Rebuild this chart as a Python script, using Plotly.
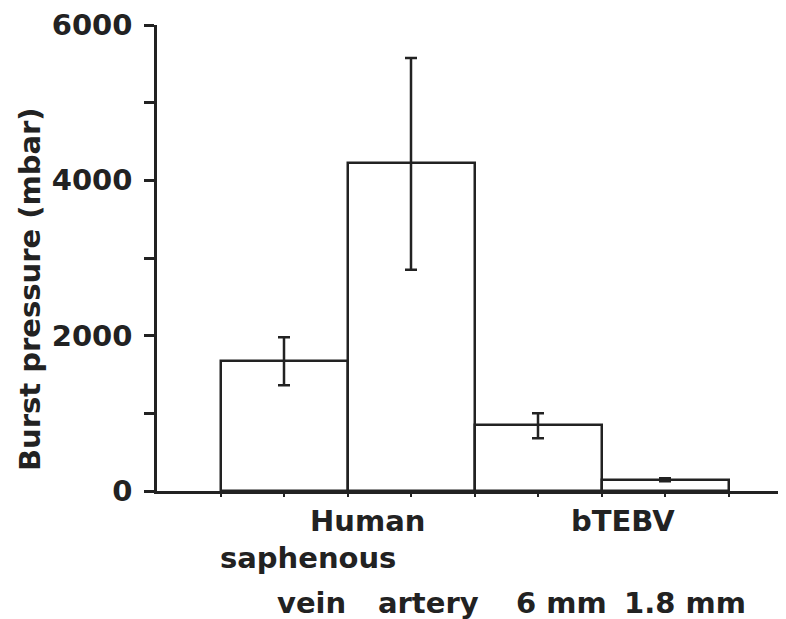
import plotly.graph_objects as go

categories = ["saphenous vein", "artery", "6 mm", "1.8 mm"]
values = [1675, 4220, 845, 145]
err_plus = [305, 1355, 155, 18]
err_minus = [315, 1370, 165, 18]
y_tick_vals = [0, 1000, 2000, 3000, 4000, 5000, 6000]
y_tick_text = ["0", "", "2000", "", "4000", "", "6000"]

xpos = list(range(len(categories)))
C = "#222222"
FONT = "DejaVu Sans, Arial, sans-serif"

OFF = 8  # page body margin of the browser
W, H = 786 - 2 * OFF, 619 - OFF
# plot area in page pixels: left 157, right 778, top 25, bottom 491
L = 157 - OFF
R = W - (778 - OFF)
T = 25 - OFF
B = H - (491 - OFF)
PW, PH = W - L - R, H - T - B
X0, UNIT = 284 - OFF, 127.0   # fig pixel of category 0 and pixels per category

fig = go.Figure()
fig.add_trace(go.Bar(
    x=xpos, y=values, width=1.0,
    marker=dict(color="white", line=dict(color=C, width=2.5)),
    error_y=dict(type="data", array=err_plus, arrayminus=err_minus,
                 color=C, thickness=2.5, width=6),
    showlegend=False,
))

fig.update_layout(
    width=W, height=H,
    margin=dict(l=L, r=R, t=T, b=B, autoexpand=False),
    plot_bgcolor="white", paper_bgcolor="white",
    font=dict(family=FONT, color=C, size=29),
    bargap=0,
)
fig.update_xaxes(
    range=[(L - X0) / UNIT, (W - R - X0) / UNIT], showgrid=False, zeroline=False,
    showline=True, linecolor=C, linewidth=2.5, automargin=False,
    tickmode="array", tickvals=[-0.5, 0, 0.5, 1, 1.5, 2, 2.5, 3, 3.5],
    ticktext=[""] * 9, ticks="outside", ticklen=3, tickwidth=1.5, tickcolor=C,
)
fig.update_yaxes(
    range=[0, 6000], showgrid=False, zeroline=False,
    showline=True, linecolor=C, linewidth=2.5, automargin=False,
    tickmode="array", tickvals=y_tick_vals, ticktext=y_tick_text,
    ticks="outside", ticklen=10, tickwidth=2.5, tickcolor=C,
    ticklabelstandoff=6,
    tickfont=dict(family=FONT, size=29, color=C, weight="bold"),
)

fig.add_annotation(
    text="<b>Burst pressure (mbar)</b>", xref="paper", yref="paper",
    x=(30 - OFF - L) / PW, y=(H - B - (289 - OFF)) / PH,
    xanchor="center", yanchor="middle",
    textangle=-90, showarrow=False, font=dict(family=FONT, size=29, color=C),
)

def lab(text, xpx_center, ypx_center):
    # pixel positions given in page coordinates
    fig.add_annotation(
        text="<b>" + text + "</b>", xref="x", yref="paper",
        x=(xpx_center - OFF - X0) / UNIT, y=0,
        yshift=-((ypx_center - OFF) - (H - B)),
        xanchor="center", yanchor="middle", showarrow=False,
        font=dict(family=FONT, size=29, color=C),
    )

lab("Human", 367, 521)
lab("bTEBV", 623, 521)
lab("saphenous", 308, 558)
lab("vein", 311, 603)
lab("artery", 428, 603)
lab("6 mm", 561, 603)
lab("1.8 mm", 685, 603)

fig.write_html("out.html")
